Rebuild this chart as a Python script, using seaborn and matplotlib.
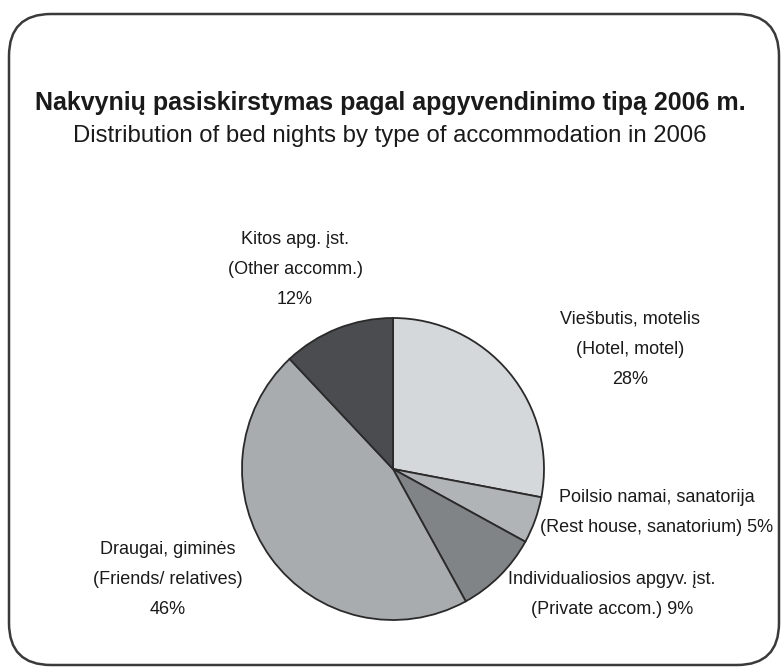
import seaborn as sns
import matplotlib.pyplot as plt
from matplotlib.patches import FancyBboxPatch

# Data
categories = ["Viešbutis, motelis", "Poilsio namai, sanatorija",
              "Individualiosios apgyv. įst.", "Draugai, giminės", "Kitos apg. įst."]
shares = [28, 5, 9, 46, 12]
colors = ["#d5d8db", "#b1b4b7", "#818487", "#a9acaf", "#4b4c50"]

title = "Nakvynių pasiskirstymas pagal apgyvendinimo tipą 2006 m."
subtitle = "Distribution of bed nights by type of accommodation in 2006"

sns.set_theme(style="white")
plt.rcParams['font.family'] = ['Liberation Sans Narrow', 'Liberation Sans', 'DejaVu Sans']

W, H = 781, 670
fig = plt.figure(figsize=(W / 100, H / 100), dpi=100)

# background axes in pixel units for frame and text
bg = fig.add_axes([0, 0, 1, 1])
bg.set_xlim(0, W)
bg.set_ylim(H, 0)
bg.axis("off")
frame = FancyBboxPatch((9, 14), 770, 651, boxstyle="round,pad=0,rounding_size=42",
                       fill=False, edgecolor="#3a3a3a", linewidth=1.8)
bg.add_patch(frame)

bg.text(390, 103, title, ha="center", va="center", fontsize=18, fontweight="bold", color="#1a1a1a")
bg.text(390, 136, subtitle, ha="center", va="center", fontsize=17.2, color="#1a1a1a")

# pie
cx, cy, r = 393, 469, 151
ax = fig.add_axes([(cx - r) / W, (H - cy - r) / H, 2 * r / W, 2 * r / H])
ax.pie(shares, colors=colors, startangle=90, counterclock=False,
       wedgeprops=dict(edgecolor="#2a2a2a", linewidth=1.3))
ax.set_xlim(-1, 1)
ax.set_ylim(-1, 1)
ax.set_aspect("auto")
ax.axis("off")

lab = dict(ha="center", va="center", fontsize=13, color="#1a1a1a", linespacing=2.0)
bg.text(630, 349, f"{categories[0]}\n(Hotel, motel)\n{shares[0]}%", **lab)
bg.text(657, 512, f"{categories[1]}\n(Rest house, sanatorium) {shares[1]}%", **lab)
bg.text(612, 595, f"{categories[2]}\n(Private accom.) {shares[2]}%", **lab)
bg.text(168, 580, f"{categories[3]}\n(Friends/ relatives)\n{shares[3]}%", **lab)
bg.text(295, 270, f"{categories[4]}\n(Other accomm.)\n{shares[4]}%", **lab)

fig.savefig("out.png", dpi=100)
